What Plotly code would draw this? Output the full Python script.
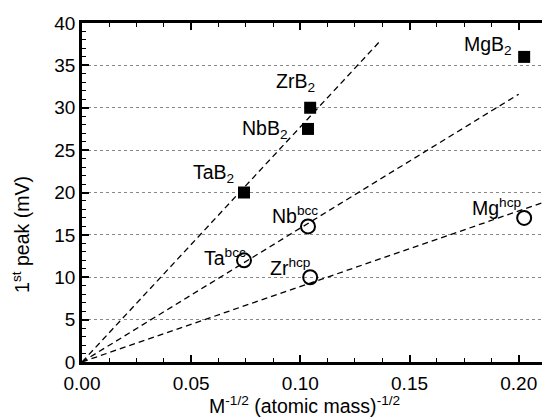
import plotly.graph_objects as go

# Data
boride_names = ["MgB<sub>2</sub>", "ZrB<sub>2</sub>", "NbB<sub>2</sub>", "TaB<sub>2</sub>"]
boride_x = [0.2025, 0.1045, 0.1035, 0.0742]
boride_y = [36.0, 30.0, 27.5, 20.0]

metal_names = ["Mg<sup>hcp</sup>", "Zr<sup>hcp</sup>", "Nb<sup>bcc</sup>", "Ta<sup>bcc</sup>"]
metal_x = [0.2025, 0.1045, 0.1035, 0.0742]
metal_y = [17.0, 10.0, 16.0, 12.0]

# dashed guide lines from origin: end points
fit_x_end = [0.137, 0.200, 0.211]
fit_y_end = [38.0, 31.6, 18.8]

# label pixel offsets (right-bottom anchor of text relative to marker)
boride_off = [(-10, -3), (7, 11), (-18, -15), (-8, 5)]
metal_off = [(0, -3), (3, -4), (12, -3), (4, -11)]

FONT = "Liberation Sans, Arial, Helvetica, sans-serif"
LBL = 19.5

fig = go.Figure()

for xe, ye in zip(fit_x_end, fit_y_end):
    fig.add_trace(go.Scatter(x=[0, xe], y=[0, ye], mode="lines",
                             line=dict(color="black", width=1.3, dash="6px,4px"),
                             showlegend=False, hoverinfo="skip"))

fig.add_trace(go.Scatter(x=boride_x, y=boride_y, mode="markers",
                         marker=dict(symbol="square", size=12, color="black"),
                         showlegend=False))
fig.add_trace(go.Scatter(x=metal_x, y=metal_y, mode="markers",
                         marker=dict(symbol="circle-open", size=14, color="black",
                                     line=dict(width=2, color="black")),
                         showlegend=False))

annotations = []
for n, x, y, (dx, dy) in zip(boride_names, boride_x, boride_y, boride_off):
    annotations.append(dict(x=x, y=y, text=n, showarrow=False, xanchor="right",
                            yanchor="bottom", xshift=dx, yshift=dy,
                            font=dict(family=FONT, size=LBL, color="black")))
for n, x, y, (dx, dy) in zip(metal_names, metal_x, metal_y, metal_off):
    annotations.append(dict(x=x, y=y, text=n, showarrow=False, xanchor="right",
                            yanchor="bottom", xshift=dx, yshift=dy,
                            font=dict(family=FONT, size=LBL, color="black")))

annotations.append(dict(xref="paper", yref="paper", x=0.468, y=-0.128,
                        text="M<sup>-1/2</sup> (atomic mass)<sup>-1/2</sup>",
                        showarrow=False, xanchor="center", yanchor="middle",
                        font=dict(family=FONT, size=LBL, color="black")))
annotations.append(dict(xref="paper", yref="paper", x=-0.128, y=0.375,
                        text="1<sup>st</sup> peak (mV)", textangle=-90,
                        showarrow=False, xanchor="center", yanchor="middle",
                        font=dict(family=FONT, size=LBL, color="black")))

fig.update_layout(
    width=550, height=419,
    margin=dict(l=74, r=0, t=15, b=65),
    plot_bgcolor="white", paper_bgcolor="white",
    font=dict(family=FONT, size=19, color="black"),
    annotations=annotations,
    xaxis=dict(range=[0, 0.218], dtick=0.05, tick0=0, tickformat=".2f",
               showline=True, linecolor="black", linewidth=2.5, mirror="ticks",
               ticks="inside", ticklen=7, tickwidth=1.5, tickcolor="black",
               ticklabelstandoff=2,
               showgrid=False, zeroline=False,
               minor=dict(dtick=0.0125, ticks="inside", ticklen=4, tickwidth=1.2,
                          tickcolor="black", showgrid=False)),
    yaxis=dict(range=[0, 40], dtick=5, tick0=0,
               showline=True, linecolor="black", linewidth=2.5, mirror=False,
               ticks="inside", ticklen=7, tickwidth=1.5, tickcolor="black",
               showgrid=True, gridcolor="#888888", gridwidth=1, griddash="dot",
               zeroline=False,
               minor=dict(dtick=1, ticks="inside", ticklen=4, tickwidth=1.2,
                          tickcolor="black", showgrid=False)),
)

fig.write_html("out.html")
